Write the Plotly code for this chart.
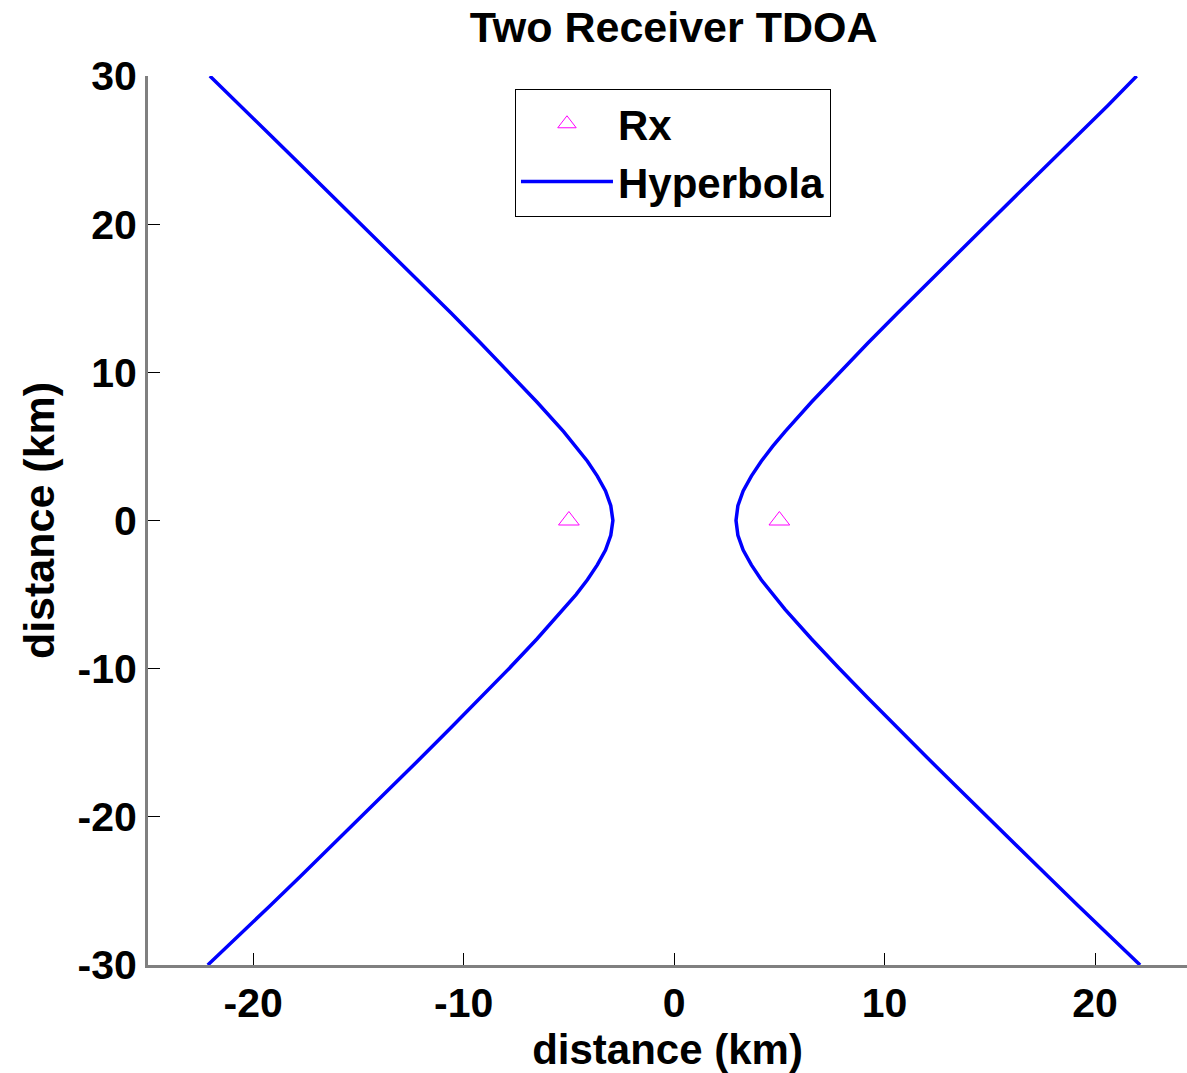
import plotly.graph_objects as go

# ---- data ----
rx_x = [-5, 5]
rx_y = [0, 0]

hyp_y = [-30, -28, -26, -24, -22, -20, -18, -16, -14, -12, -10, -8, -6, -5, -4, -3, -2, -1,
         0, 1, 2, 3, 4, 5, 6, 8, 10, 12, 14, 16, 18, 20, 22, 24, 26, 28, 30]
hyp_right_x = [22.14, 20.65, 19.20, 17.75, 16.30, 14.88, 13.45, 12.02, 10.60, 9.22, 7.86, 6.53,
               5.27, 4.68, 4.14, 3.67, 3.28, 3.03, 2.94, 3.03, 3.28, 3.67, 4.14, 4.68, 5.27,
               6.53, 7.86, 9.22, 10.62, 12.02, 13.44, 14.87, 16.30, 17.74, 19.18, 20.60, 21.98]
hyp_left_x = [-22.16, -20.66, -19.20, -17.74, -16.30, -14.86, -13.44, -12.02, -10.62, -9.21,
              -7.85, -6.52, -5.25, -4.66, -4.12, -3.65, -3.26, -3.01, -2.91, -3.01, -3.26,
              -3.65, -4.12, -4.66, -5.25, -6.52, -7.85, -9.21, -10.60, -12.02, -13.44, -14.87,
              -16.30, -17.74, -19.18, -20.62, -22.06]

x_ticks = [-20, -10, 0, 10, 20]
y_ticks = [-30, -20, -10, 0, 10, 20, 30]

FONT = "Liberation Sans"

fig = go.Figure()
fig.add_trace(go.Scatter(
    x=rx_x, y=rx_y, mode="markers", name="Rx",
    marker=dict(symbol="triangle-up-open", size=18, color="#FF00FF", line=dict(width=1, color="#FF00FF")),
))
fig.add_trace(go.Scatter(
    x=hyp_left_x + [None] + hyp_right_x,
    y=hyp_y + [None] + hyp_y,
    mode="lines", name="Hyperbola",
    line=dict(color="#0000FF", width=3.5),
    connectgaps=False,
))

fig.update_layout(
    width=1187, height=1073,
    margin=dict(l=148, r=0, t=76, b=108),
    paper_bgcolor="white", plot_bgcolor="white",
    font=dict(family=FONT, color="black"),
    title=dict(text="Two Receiver TDOA", x=0.5675, xanchor="center", y=0.975, yanchor="middle",
               yref="container", font=dict(family=FONT, size=43, weight="bold", color="black")),
    legend=dict(x=0.3532, y=0.9854, xanchor="left", yanchor="top",
                bordercolor="black", borderwidth=1, bgcolor="white",
                font=dict(family=FONT, size=42, weight="bold", color="black"),
                itemwidth=92, tracegroupgap=0),
    showlegend=True,
)
fig.update_xaxes(
    range=[-25, 24.37], tickvals=x_ticks, ticktext=[str(v) for v in x_ticks],
    ticks="inside", ticklen=12, tickwidth=1, tickcolor="black",
    showline=True, linecolor="#808080", linewidth=3, mirror=False,
    showgrid=False, zeroline=False,
    tickfont=dict(family=FONT, size=41, weight="bold", color="black"),
    title=dict(text="distance (km)", font=dict(family=FONT, size=42, weight="bold", color="black"), standoff=6),
)
fig.update_yaxes(
    range=[-30, 30], tickvals=y_ticks, ticktext=[str(v) for v in y_ticks],
    ticks="inside", ticklen=12, tickwidth=1, tickcolor="black",
    showline=True, linecolor="#808080", linewidth=3, mirror=False,
    showgrid=False, zeroline=False,
    tickfont=dict(family=FONT, size=41, weight="bold", color="black"),
    title=dict(text="distance (km)", font=dict(family=FONT, size=43, weight="bold", color="black"), standoff=10),
)

fig.write_html("out.html")
